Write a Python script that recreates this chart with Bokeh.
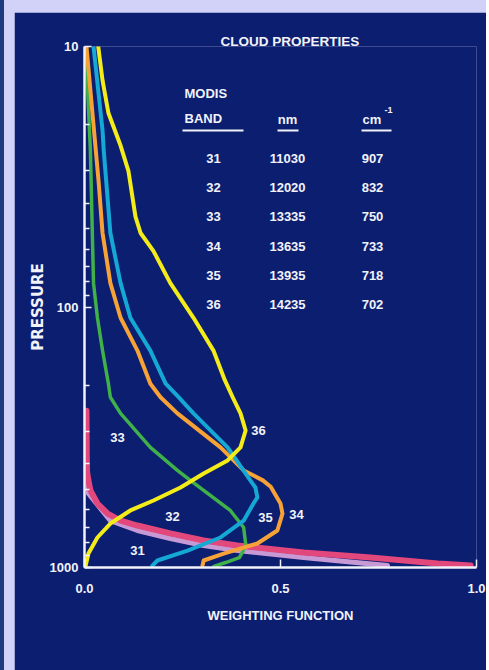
from bokeh.plotting import figure
from bokeh.models import Range1d, FixedTicker, Title, Div
from bokeh.layouts import row
from bokeh.embed import file_html
from bokeh.resources import INLINE
from bokeh.core.properties import value

# ---------------- data ----------------
band_labels = ["31", "32", "33", "34", "35", "36"]
wavelength_nm = ["11030", "12020", "13335", "13635", "13935", "14235"]
wavenumber_cm = ["907", "832", "750", "733", "718", "702"]

# band 31 (lavender)
p31 = [350, 520, 661, 721, 774, 823, 861, 916, 983]
w31 = [0.004, 0.010, 0.066, 0.135, 0.219, 0.304, 0.390, 0.559, 0.773]
# band 32 (pink)
p32 = [250, 424, 463, 506, 568, 621, 661, 690, 740, 788, 823, 876, 916, 966, 983]
w32 = [0.005, 0.006, 0.010, 0.015, 0.033, 0.059, 0.092, 0.135, 0.219, 0.304, 0.390, 0.559, 0.730, 0.901, 0.985]
# band 33 (green)
p33 = [10, 25, 81, 110, 147, 197, 222, 256, 346, 424, 463, 506, 604, 702, 809, 861, 916, 957, 991]
w33 = [0.003, 0.015, 0.023, 0.033, 0.046, 0.061, 0.066, 0.092, 0.168, 0.237, 0.270, 0.304, 0.372, 0.406, 0.411, 0.405, 0.395, 0.360, 0.330]
# band 34 (orange)
p34 = [10, 33, 52, 81, 110, 147, 197, 222, 256, 346, 424, 463, 490, 568, 621, 721, 809, 884, 940, 983]
w34 = [0.005, 0.036, 0.046, 0.066, 0.092, 0.135, 0.168, 0.194, 0.237, 0.347, 0.406, 0.455, 0.475, 0.500, 0.505, 0.492, 0.441, 0.355, 0.304, 0.301]
# band 35 (cyan)
p35 = [10, 21, 25, 52, 81, 110, 147, 197, 222, 256, 346, 463, 493, 538, 568, 661, 767, 861, 940, 983]
w35 = [0.023, 0.046, 0.049, 0.066, 0.092, 0.117, 0.168, 0.207, 0.240, 0.278, 0.365, 0.423, 0.436, 0.441, 0.431, 0.406, 0.347, 0.263, 0.186, 0.173]
# band 36 (yellow)
p36 = [10, 13.5, 18, 24, 30, 45, 52, 61, 81, 110, 147, 191, 222, 256, 298, 346, 388, 436, 493, 553, 604, 678, 767, 884, 983, 1000]
w36 = [0.035, 0.046, 0.061, 0.092, 0.112, 0.130, 0.143, 0.176, 0.219, 0.278, 0.329, 0.358, 0.378, 0.398, 0.411, 0.398, 0.365, 0.304, 0.245, 0.176, 0.117, 0.066, 0.033, 0.010, 0.003, 0.0]

x_ticks = [0, 0.5, 1.0]
x_tick_labels = ["0.0", "0.5", "1.0"]
y_ticks = [10, 100, 1000]
y_tick_labels = ["10", "100", "1000"]
y_minor = [20, 30, 40, 50, 60, 70, 80, 90, 200, 300, 400, 500, 600, 700, 800, 900]

# ---------------- style ----------------
NAVY = "#0b1e70"
LAV = "#d2d2f8"
STRIP = "#1d3a7e"
WHITE = "#f2f2fa"
FONT_STR = "Liberation Sans"
FONT = value(FONT_STR)

# page-pixel helpers for placing annotation text
def wx(px):
    return (px - 84) / 392.0

def pp(py):
    return 10 ** (1 + (py - 46) / 260.5)

p = figure(width=472, height=658, x_range=Range1d(0, 1), y_range=Range1d(1000, 10),
           y_axis_type="log", output_backend="svg", toolbar_location=None,
           min_border_left=70, min_border_right=10, min_border_top=34, min_border_bottom=103,
           background_fill_color=NAVY, border_fill_color=NAVY, outline_line_color=None)
p.margin = (12, 0, 0, 10)
p.grid.visible = False

for ax in (p.xaxis[0], p.yaxis[0]):
    ax.axis_line_color = WHITE
    ax.axis_line_width = 2.5
    ax.major_tick_line_color = WHITE
    ax.minor_tick_line_color = WHITE
    ax.major_tick_line_width = 1.5
    ax.minor_tick_line_width = 1.5
    ax.major_label_text_color = WHITE
    ax.major_label_text_font = FONT_STR
    ax.major_label_text_font_style = "bold"
    ax.major_label_text_font_size = "13px"
    ax.axis_label_text_color = WHITE
    ax.axis_label_text_font = FONT_STR
    ax.axis_label_text_font_style = "bold"
    ax.major_tick_out = 0
    ax.minor_tick_out = 0

p.xaxis.ticker = FixedTicker(ticks=x_ticks)
p.xaxis.major_label_overrides = {t: s for t, s in zip(x_ticks, x_tick_labels)}
p.xaxis.major_tick_in = 8
p.xaxis.minor_tick_in = 0
p.xaxis.major_label_standoff = 16
p.xaxis.axis_label = "WEIGHTING FUNCTION"
p.xaxis.axis_label_text_font_size = "13px"
p.xaxis.axis_label_standoff = 12

p.yaxis.ticker = FixedTicker(ticks=y_ticks, minor_ticks=y_minor)
p.yaxis.major_label_overrides = {t: s for t, s in zip(y_ticks, y_tick_labels)}
p.yaxis.major_tick_in = 7
p.yaxis.minor_tick_in = 5
p.yaxis.major_label_standoff = 6
p.yaxis.axis_label = "PRESSURE"
p.yaxis.axis_label_text_font = "DejaVu Sans"
p.yaxis.axis_label_text_font_size = "15px"
p.yaxis.axis_label_standoff = 0

# ---------------- curves ----------------
curves = [
    (w31, p31, "#c79ad6", 5),
    (w32, p32, "#e2487c", 6),
    (w33, p33, "#3fb04a", 3.5),
    (w34, p34, "#f6a236", 4),
    (w35, p35, "#16a8d4", 4),
    (w36, p36, "#f4ec18", 4),
]
for w, pr, col, lw in curves:
    p.line(w, pr, line_color=col, line_width=lw, line_join="round", line_cap="round")

# curve labels
lab_pos = {"31": (137, 550), "32": (172, 516), "33": (117, 437),
           "34": (296, 514), "35": (265, 517), "36": (258, 430)}
p.text(x=[wx(lab_pos[b][0]) for b in band_labels], y=[pp(lab_pos[b][1]) for b in band_labels],
       text=band_labels, text_color=WHITE, text_font=FONT, text_font_style="bold",
       text_font_size="13px", text_align="center", text_baseline="middle")

# ---------------- table ----------------
row_y = [pp(158 + i * 29.2) for i in range(len(band_labels))]
for col_px, col_txt in ((213, band_labels), (287, wavelength_nm), (372, wavenumber_cm)):
    p.text(x=[wx(col_px)] * 6, y=row_y, text=col_txt, text_color=WHITE, text_font=FONT,
           text_font_style="bold", text_font_size="13px", text_align="center",
           text_baseline="middle")

p.text(x=[wx(184), wx(184), wx(287), wx(362)], y=[pp(93), pp(118), pp(119), pp(119)],
       text=["MODIS", "BAND", "nm", "cm"], text_color=WHITE, text_font=FONT,
       text_font_style="bold", text_font_size="13px",
       text_align=["left", "left", "center", "left"], text_baseline="middle")
p.text(x=[wx(384)], y=[pp(109)], text=["-1"], text_color=WHITE, text_font=FONT,
       text_font_style="bold", text_font_size="9px", text_align="left", text_baseline="middle")
p.segment(x0=[wx(182), wx(277), wx(361)], y0=[pp(130)] * 3,
          x1=[wx(243), wx(298), wx(391)], y1=[pp(130)] * 3,
          line_color=WHITE, line_width=2)

p.add_layout(Title(text="CLOUD PROPERTIES", align="left", offset=136, standoff=-4,
                   text_color=WHITE, text_font=FONT_STR, text_font_style="bold",
                   text_font_size="13.5px"), "above")

strip = Div(width=4, height=670, margin=0, styles={"background-color": STRIP})
root = row(strip, p, styles={"background-color": LAV})
open("out.html", "w").write(file_html(root, INLINE))
